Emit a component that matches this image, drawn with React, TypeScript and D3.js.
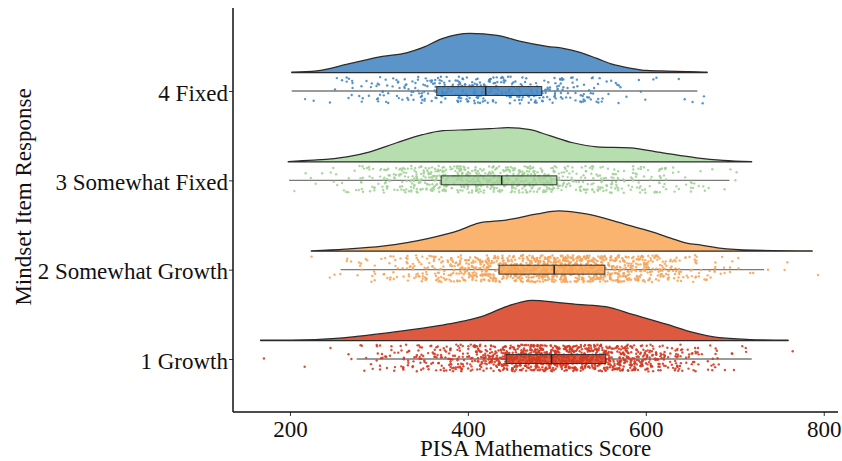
import React, { useEffect, useRef } from "react";
import * as d3 from "d3";

// ---------- data ----------
const categories = ["1 Growth", "2 Somewhat Growth", "3 Somewhat Fixed", "4 Fixed"];
const fillColors = ["#dd5a40", "#fbb46f", "#b7deae", "#5b94c9"];
const pointColors = ["#d43a22", "#f6a55a", "#a2d297", "#4788c3"];

const xTicks = [200, 400, 600, 800];
const xTitle = "PISA Mathematics Score";
const yTitle = "Mindset Item Response";

// half-violin density outlines: [score, relative density]
const densityGrowth: [number, number][] = [
  [167, 0.008], [229, 0.025], [275, 0.1], [322, 0.225], [369, 0.375], [388, 0.45],
  [416, 0.6], [444, 0.85], [472, 1.0], [500, 0.95], [522, 0.9], [555, 0.84],
  [585, 0.65], [624, 0.4], [653, 0.2], [680, 0.075], [717, 0.025], [760, 0.008],
];
const densitySomewhatGrowth: [number, number][] = [
  [224, 0.008], [262, 0.05], [304, 0.125], [356, 0.32], [391, 0.525], [412, 0.7],
  [443, 0.775], [478, 0.925], [502, 1.0], [533, 0.925], [576, 0.675], [608, 0.475],
  [628, 0.325], [646, 0.2], [662, 0.15], [683, 0.075], [720, 0.025], [787, 0.008],
];
const densitySomewhatFixed: [number, number][] = [
  [198, 0.008], [226, 0.04], [264, 0.125], [290, 0.25], [320, 0.475], [349, 0.675],
  [372, 0.775], [402, 0.8], [425, 0.825], [445, 0.85], [470, 0.8], [492, 0.65],
  [518, 0.475], [545, 0.375], [582, 0.35], [619, 0.225], [657, 0.1], [687, 0.038],
  [719, 0.008],
];
const densityFixed: [number, number][] = [
  [202, 0.008], [230, 0.04], [267, 0.22], [304, 0.4], [331, 0.49], [349, 0.62],
  [372, 0.85], [402, 0.975], [433, 0.925], [458, 0.78], [489, 0.65], [507, 0.6],
  [526, 0.5], [545, 0.35], [563, 0.2], [582, 0.11], [601, 0.05], [624, 0.035],
  [649, 0.025], [669, 0.008],
];
const densities = [densityGrowth, densitySomewhatGrowth, densitySomewhatFixed, densityFixed];

// box plot statistics per category
const whiskerLow = [275, 257, 199, 202];
const q1 = [443, 435, 370, 365];
const median = [494, 497, 438, 420];
const q3 = [555, 554, 500, 483];
const whiskerHigh = [719, 733, 694, 658];

// raw points, as counts per 20-point score bin starting at 160 (160,180,...,780)
const binStart = 160;
const binWidth = 20;
const countsGrowth = [1, 0, 1, 0, 1, 3, 9, 15, 20, 26, 33, 42, 54, 70, 94, 108, 108, 104, 99, 92, 80, 66, 52, 37, 23, 12, 6, 3, 0, 0, 1, 0];
const countsSomewhatGrowth = [0, 0, 0, 1, 3, 7, 9, 14, 21, 28, 35, 49, 65, 77, 84, 93, 102, 104, 98, 86, 74, 63, 49, 32, 20, 12, 7, 3, 2, 2, 0, 1];
const countsSomewhatFixed = [0, 0, 2, 3, 6, 10, 18, 28, 38, 47, 54, 55, 56, 57, 58, 59, 52, 34, 30, 26, 25, 25, 19, 13, 9, 5, 2, 2, 0, 0, 0, 0];
const countsFixed = [0, 0, 1, 1, 4, 9, 12, 14, 19, 24, 32, 36, 38, 36, 32, 28, 25, 23, 19, 12, 7, 3, 2, 1, 2, 2, 0, 0, 0, 0, 0, 0];
const pointCounts = [countsGrowth, countsSomewhatGrowth, countsSomewhatFixed, countsFixed];

// deterministic jitter
const jit = (n: number) => {
  const s = Math.sin(n * 127.1 + 311.7) * 43758.5453;
  return s - Math.floor(s);
};

export default function App() {
  const ref = useRef<SVGSVGElement>(null);

  useEffect(() => {
    const svg = d3.select(ref.current);
    svg.selectAll("*").remove();
    const font = "'Liberation Serif', 'Times New Roman', serif";
    const left = 233, right = 838, top = 8, bottom = 412;

    const x = d3.scaleLinear().domain([136, 816]).range([left, right]);
    const y = d3.scaleLinear().domain([1, 4]).range([359, 91]);
    const step = y(1) - y(2);
    const hScale = d3.scaleLinear().domain([0, 1]).range([0, 0.45 * step]);

    svg.append("rect").attr("width", 842).attr("height", 461).attr("fill", "#fff");

    categories.forEach((cat, i) => {
      const cy = y(i + 1);
      const base = cy - 0.207 * step;
      const g = svg.append("g");

      // density (half violin)
      const area = d3
        .area<[number, number]>()
        .x((d) => x(d[0]))
        .y0(base)
        .y1((d) => base - hScale(d[1]))
        .curve(d3.curveMonotoneX);
      g.append("path")
        .attr("d", area(densities[i]) as string)
        .attr("fill", fillColors[i])
        .attr("stroke", "#2b2b2b")
        .attr("stroke-width", 1.25)
        .attr("stroke-linejoin", "round");

      // whisker line
      g.append("line")
        .attr("x1", x(whiskerLow[i]))
        .attr("x2", x(whiskerHigh[i]))
        .attr("y1", cy)
        .attr("y2", cy)
        .attr("stroke", "#7a7a7a")
        .attr("stroke-width", 1.3);

      // box fill
      const bh = 0.1 * step;
      g.append("rect")
        .attr("x", x(q1[i]))
        .attr("y", cy - bh / 2)
        .attr("width", x(q3[i]) - x(q1[i]))
        .attr("height", bh)
        .attr("fill", fillColors[i]);

      // jittered points
      const pts: [number, number][] = [];
      let idx = (i + 1) * 10000;
      pointCounts[i].forEach((c, k) => {
        for (let j = 0; j < c; j++) {
          idx++;
          const v = binStart + k * binWidth + binWidth * jit(idx * 2 + 1);
          const dy = (jit(idx * 2 + 2) * 2 - 1) * 0.15 * step;
          pts.push([v, dy]);
        }
      });
      g.append("g")
        .selectAll("circle")
        .data(pts)
        .join("circle")
        .attr("cx", (d) => x(d[0]))
        .attr("cy", (d) => cy - 1 + d[1])
        .attr("r", 1.2)
        .attr("fill", pointColors[i])
        .attr("fill-opacity", 0.9);

      // box outline + median
      g.append("rect")
        .attr("x", x(q1[i]))
        .attr("y", cy - bh / 2)
        .attr("width", x(q3[i]) - x(q1[i]))
        .attr("height", bh)
        .attr("fill", "none")
        .attr("stroke", "#333")
        .attr("stroke-width", 1);
      g.append("line")
        .attr("x1", x(median[i]))
        .attr("x2", x(median[i]))
        .attr("y1", cy - bh / 2)
        .attr("y2", cy + bh / 2)
        .attr("stroke", "#222")
        .attr("stroke-width", 1.5);
    });

    // axes
    const xAxis = d3.axisBottom(x).tickValues(xTicks).tickSize(4).tickPadding(5);
    const gx = svg.append("g").attr("transform", `translate(0,${bottom})`).call(xAxis);
    gx.select(".domain").remove();
    gx.selectAll(".tick line").attr("stroke", "#333");
    gx.selectAll(".tick text")
      .attr("font-family", font)
      .attr("font-size", 23)
      .attr("fill", "#111");

    const yAxis = d3
      .axisLeft(y)
      .tickValues([1, 2, 3, 4])
      .tickFormat((d) => categories[(d as number) - 1])
      .tickSize(4)
      .tickPadding(1);
    const gy = svg.append("g").attr("transform", `translate(${left},0)`).call(yAxis);
    gy.select(".domain").remove();
    gy.selectAll(".tick line").attr("stroke", "#333");
    gy.selectAll(".tick text")
      .attr("font-family", font)
      .attr("font-size", 23)
      .attr("fill", "#111")
      .attr("dy", "0.4em");

    svg.append("line")
      .attr("x1", left).attr("x2", left).attr("y1", top).attr("y2", bottom)
      .attr("stroke", "#111").attr("stroke-width", 1.5);
    svg.append("line")
      .attr("x1", left).attr("x2", right).attr("y1", bottom).attr("y2", bottom)
      .attr("stroke", "#111").attr("stroke-width", 1.5);

    svg.append("text")
      .attr("x", (left + right) / 2)
      .attr("y", 456)
      .attr("text-anchor", "middle")
      .attr("font-family", font)
      .attr("font-size", 23)
      .attr("fill", "#111")
      .text(xTitle);

    svg.append("text")
      .attr("transform", `translate(31,197) rotate(-90)`)
      .attr("text-anchor", "middle")
      .attr("font-family", font)
      .attr("font-size", 23)
      .attr("fill", "#111")
      .text(yTitle);
  }, []);

  return (
    <svg
      ref={ref}
      width={842}
      height={461}
      style={{ position: "absolute", left: 0, top: 0, display: "block" }}
    />
  );
}
